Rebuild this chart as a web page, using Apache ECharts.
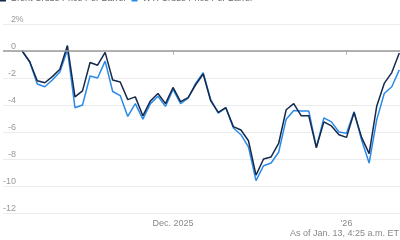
<!DOCTYPE html>
<html>
<head>
<meta charset="utf-8">
<script src="https://cdn.jsdelivr.net/npm/echarts@6/dist/echarts.min.js"></script>
<style>html,body{margin:0;padding:0;background:#fff}#c{width:400px;height:240px}</style>
</head>
<body>
<div id="c"></div>
<script>
// Weekday dates, Nov 3 2025 – Jan 12 2026
const dates = [
  '2025-11-03','2025-11-04','2025-11-05','2025-11-06','2025-11-07',
  '2025-11-10','2025-11-11','2025-11-12','2025-11-13','2025-11-14',
  '2025-11-17','2025-11-18','2025-11-19','2025-11-20','2025-11-21',
  '2025-11-24','2025-11-25','2025-11-26','2025-11-27','2025-11-28',
  '2025-12-01','2025-12-02','2025-12-03','2025-12-04','2025-12-05',
  '2025-12-08','2025-12-09','2025-12-10','2025-12-11','2025-12-12',
  '2025-12-15','2025-12-16','2025-12-17','2025-12-18','2025-12-19',
  '2025-12-22','2025-12-23','2025-12-24','2025-12-25','2025-12-26',
  '2025-12-29','2025-12-30','2025-12-31',
  '2026-01-01','2026-01-02','2026-01-05','2026-01-06','2026-01-07',
  '2026-01-08','2026-01-09','2026-01-12'
];
const brent = [
  0, -0.8, -2.2, -2.35, -1.9, -1.35, 0.4, -3.4, -2.95, -0.85,
  -1.05, -0.1, -2.15, -2.3, -3.6, -3.4, -4.8, -3.7, -3.15, -3.9,
  -2.7, -3.75, -3.45, -2.5, -1.7, -3.7, -4.55, -4.2, -5.6, -5.85,
  -6.65, -9.2, -8.0, -7.85, -6.85, -4.35, -3.9, -4.8, -4.8, -7.15,
  -5.25, -5.55, -6.2, -6.4, -4.55, -6.4, -7.6, -4.1, -2.4, -1.6,
  -0.15
];
const wti = [
  0, -0.8, -2.45, -2.65, -2.15, -1.55, 0.1, -4.2, -4.0, -1.85,
  -2.0, -0.75, -3.0, -3.3, -4.85, -3.9, -5.05, -3.9, -3.35, -4.1,
  -2.85, -3.9, -3.5, -2.4, -1.6, -3.6, -4.6, -4.2, -5.7, -6.2,
  -7.1, -9.6, -8.5, -8.3, -7.5, -5.05, -4.4, -4.45, -4.45, -7.15,
  -4.95, -5.25, -6.0, -6.1, -4.5, -6.6, -8.3, -5.1, -3.15, -2.65,
  -1.4
];
const seriesNames = ['Brent Crude Price Per Barrel', 'WTI Crude Price Per Barrel'];
const tickDates = ['2025-12-01', '2026-01-01'];
const tickLabels = ['Dec. 2025', "'26"];
const yTicks = [2, 0, -2, -4, -6, -8, -10, -12];
const footer = 'As of Jan. 13, 4:25 a.m. ET';

const tickIdx = tickDates.map(d => dates.indexOf(d));
const toPairs = arr => arr.map((v, i) => [i, v]);

const chart = echarts.init(document.getElementById('c'), null, {renderer: 'canvas'});
chart.setOption({
  animation: false,
  backgroundColor: '#fff',
  textStyle: {fontFamily: 'Liberation Sans, Arial, sans-serif'},
  legend: {
    left: 0, top: -6, padding: 0,
    icon: 'rect', itemWidth: 6, itemHeight: 6, itemGap: 6,
    textStyle: {fontSize: 9, color: '#666'},
    data: seriesNames
  },
  title: {
    text: footer, right: 1, top: 229, padding: 0,
    textStyle: {fontSize: 9, fontWeight: 'normal', color: '#888'}
  },
  grid: {left: 0, right: 0, top: 24, bottom: 27, containLabel: false},
  xAxis: {
    type: 'value',
    min: -2.54, max: 50.09,
    axisLine: {show: false},
    splitLine: {show: false},
    axisTick: {show: true, customValues: tickIdx, length: 4, lineStyle: {color: '#bbb'}},
    axisLabel: {
      customValues: tickIdx, margin: 6, fontSize: 9, color: '#888',
      formatter: v => tickLabels[tickIdx.indexOf(Math.round(v))] || ''
    }
  },
  yAxis: {
    type: 'value',
    min: -12, max: 2, interval: 2,
    axisLine: {show: false},
    axisTick: {show: false},
    splitLine: {lineStyle: {color: '#ececec', width: 1}},
    axisLabel: {
      inside: true, margin: 20, align: 'right', verticalAlign: 'bottom',
      fontSize: 9, color: '#999',
      formatter: v => '{n|' + v + '}{p|' + (v === yTicks[0] ? '%' : ' ') + '}',
      rich: {
        n: {fontSize: 9, color: '#999'},
        p: {width: 7, fontSize: 9, color: '#999', align: 'left'}
      }
    }
  },
  series: [
    {
      name: seriesNames[0], type: 'line', data: toPairs(brent),
      showSymbol: false, symbol: 'none', z: 3,
      lineStyle: {color: '#15294a', width: 1.5},
      itemStyle: {color: '#15294a'},
      markLine: {
        silent: true, symbol: 'none', label: {show: false},
        lineStyle: {color: '#999', width: 1.5, type: 'solid'},
        data: [{yAxis: 0}]
      }
    },
    {
      name: seriesNames[1], type: 'line', data: toPairs(wti),
      showSymbol: false, symbol: 'none', z: 2,
      lineStyle: {color: '#2a8ae8', width: 1.5},
      itemStyle: {color: '#2a8ae8'}
    }
  ]
});
</script>
</body>
</html>
